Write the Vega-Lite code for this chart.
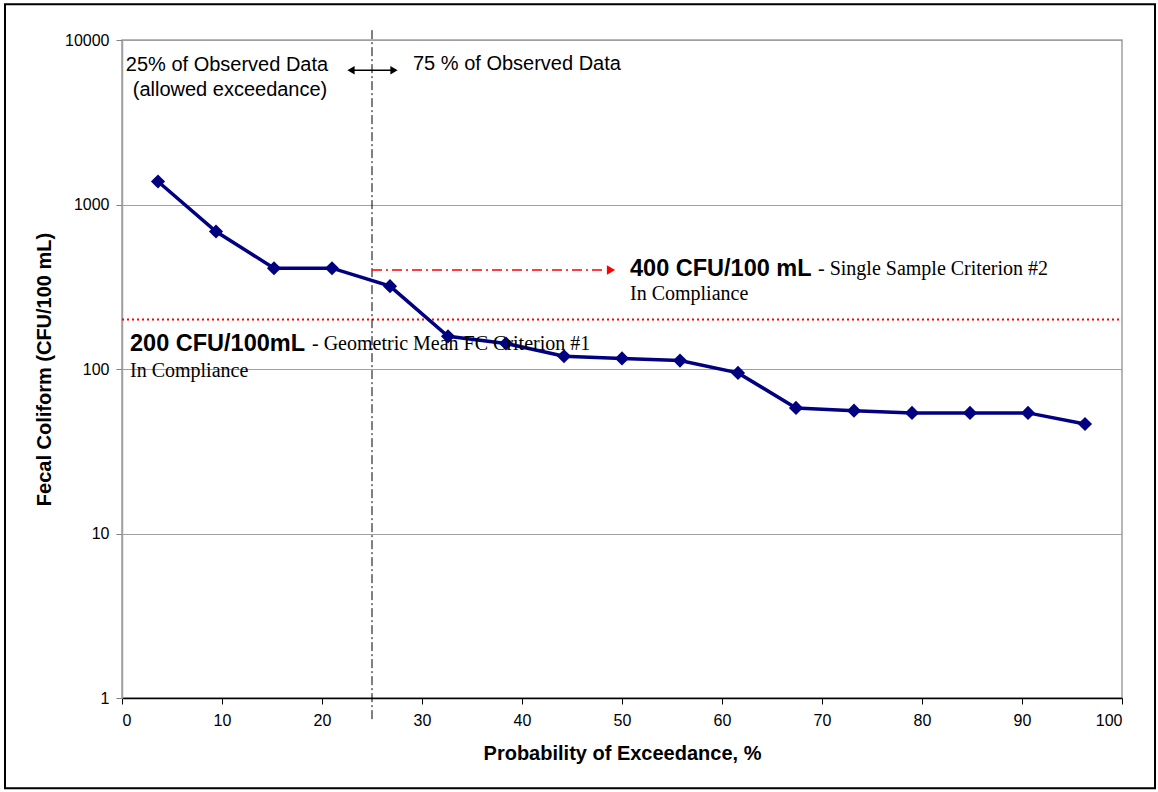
{
  "$schema": "https://vega.github.io/schema/vega-lite/v6.json",
  "width": 1000,
  "height": 658,
  "autosize": {"type": "none"},
  "padding": {"left": 122, "top": 40, "right": 36, "bottom": 94},
  "background": "white",
  "config": {
    "view": {"stroke": "#a0a0a0", "strokeWidth": 1.5},
    "font": "Liberation Sans",
    "axis": {
      "labelFont": "Liberation Sans",
      "labelFontSize": 16,
      "labelColor": "#000000",
      "titleFont": "Liberation Sans",
      "titleFontSize": 20,
      "titleFontWeight": "bold",
      "titleColor": "#000000"
    }
  },
  "datasets": {
    "fc": [
      {"p": 3.6, "fc": 1380},
      {"p": 9.4, "fc": 685},
      {"p": 15.2, "fc": 410},
      {"p": 21.0, "fc": 410},
      {"p": 26.8, "fc": 319},
      {"p": 32.6, "fc": 158},
      {"p": 38.4, "fc": 143},
      {"p": 44.2, "fc": 119.5},
      {"p": 50.0, "fc": 116},
      {"p": 55.8, "fc": 112.5},
      {"p": 61.6, "fc": 94.7},
      {"p": 67.4, "fc": 58},
      {"p": 73.2, "fc": 55.8},
      {"p": 79.0, "fc": 54.1},
      {"p": 84.8, "fc": 54.1},
      {"p": 90.6, "fc": 54.1},
      {"p": 96.3, "fc": 46.3}
    ]
  },
  "data": {"name": "fc"},
  "encoding": {
    "x": {
      "field": "p",
      "type": "quantitative",
      "scale": {"domain": [0, 100], "nice": false, "zero": false},
      "axis": {
        "title": "Probability of Exceedance, %",
        "values": [0, 10, 20, 30, 40, 50, 60, 70, 80, 90, 100],
        "grid": false,
        "domainColor": "#000000",
        "domainWidth": 1.5,
        "tickColor": "#000000",
        "tickSize": 6,
        "labelPadding": 8,
        "titlePadding": 15
      }
    },
    "y": {
      "field": "fc",
      "type": "quantitative",
      "scale": {"type": "log", "domain": [1, 10000], "nice": false},
      "axis": {
        "title": "Fecal Coliform (CFU/100 mL)",
        "values": [1, 10, 100, 1000, 10000],
        "format": "d",
        "grid": true,
        "gridColor": "#a0a0a0",
        "gridWidth": 1.2,
        "domainColor": "#a0a0a0",
        "domainWidth": 1.5,
        "tickColor": "#808080",
        "tickSize": 6,
        "labelPadding": 7,
        "titlePadding": 10
      }
    }
  },
  "layer": [
    {
      "data": {"values": [{"p": -11.7, "p2": 103.3, "fc": 0.283, "fc2": 16500}]},
      "mark": {"type": "rect", "fill": null, "fillOpacity": 0, "stroke": "#000000", "strokeWidth": 2},
      "encoding": {"x2": {"field": "p2"}, "y2": {"field": "fc2"}}
    },
    {
      "data": {"values": [{"p": 0, "p2": 100, "fc": 200}]},
      "mark": {"type": "rule", "color": "#ff0000", "strokeWidth": 2, "strokeDash": [2, 3]},
      "encoding": {"x2": {"field": "p2"}}
    },
    {
      "data": {"values": [{"p": 25, "fc": 11480, "fc2": 0.714}]},
      "mark": {"type": "rule", "color": "#000000", "strokeWidth": 1, "strokeDash": [9, 3, 2, 3]},
      "encoding": {"y2": {"field": "fc2"}}
    },
    {
      "data": {"values": [{"p": 25, "p2": 48.4, "fc": 400}]},
      "mark": {"type": "rule", "color": "#ff0000", "strokeWidth": 1.5, "strokeDash": [10, 4, 2, 4]},
      "encoding": {"x2": {"field": "p2"}}
    },
    {
      "data": {"values": [{"p": 48.9, "fc": 400}]},
      "mark": {"type": "point", "shape": "triangle-right", "filled": true, "color": "#ff0000", "size": 90, "opacity": 1}
    },
    {
      "data": {"values": [{"p": 22.7, "p2": 27.4, "fc": 6550}]},
      "mark": {"type": "rule", "color": "#000000", "strokeWidth": 1.5},
      "encoding": {"x2": {"field": "p2"}}
    },
    {
      "data": {"values": [{"p": 22.9, "fc": 6550}]},
      "mark": {"type": "point", "shape": "triangle-left", "filled": true, "color": "#000000", "size": 70, "opacity": 1}
    },
    {
      "data": {"values": [{"p": 27.2, "fc": 6550}]},
      "mark": {"type": "point", "shape": "triangle-right", "filled": true, "color": "#000000", "size": 70, "opacity": 1}
    },
    {
      "mark": {"type": "line", "color": "#000080", "strokeWidth": 3.5},
      "encoding": {}
    },
    {
      "mark": {"type": "point", "shape": "diamond", "filled": true, "color": "#000080", "size": 200, "opacity": 1},
      "encoding": {}
    },
    {
      "data": {"values": [
        {"p": 10.5, "fc": 7030, "label": "25% of Observed Data"},
        {"p": 10.8, "fc": 4985, "label": "(allowed exceedance)"}
      ]},
      "mark": {"type": "text", "font": "Liberation Sans", "fontSize": 20, "align": "center", "baseline": "middle", "color": "#000000"},
      "encoding": {"text": {"field": "label"}}
    },
    {
      "data": {"values": [
        {"p": 29.1, "fc": 7175, "label": "75 % of Observed Data"}
      ]},
      "mark": {"type": "text", "font": "Liberation Sans", "fontSize": 20, "align": "left", "baseline": "middle", "color": "#000000"},
      "encoding": {"text": {"field": "label"}}
    },
    {
      "data": {"values": [
        {"p": 50.8, "fc": 405, "label": "400 CFU/100 mL"},
        {"p": 0.8, "fc": 141, "label": "200 CFU/100mL"}
      ]},
      "mark": {"type": "text", "font": "Liberation Sans", "fontSize": 23.5, "fontWeight": "bold", "align": "left", "baseline": "middle", "color": "#000000"},
      "encoding": {"text": {"field": "label"}}
    },
    {
      "data": {"values": [
        {"p": 69.6, "fc": 405, "label": "- Single Sample Criterion #2"},
        {"p": 50.8, "fc": 284, "label": "In Compliance"},
        {"p": 19.0, "fc": 141, "label": "- Geometric Mean FC Criterion #1"},
        {"p": 0.8, "fc": 96.8, "label": "In Compliance"}
      ]},
      "mark": {"type": "text", "font": "Liberation Serif", "fontSize": 20, "align": "left", "baseline": "middle", "color": "#000000"},
      "encoding": {"text": {"field": "label"}}
    }
  ]
}
